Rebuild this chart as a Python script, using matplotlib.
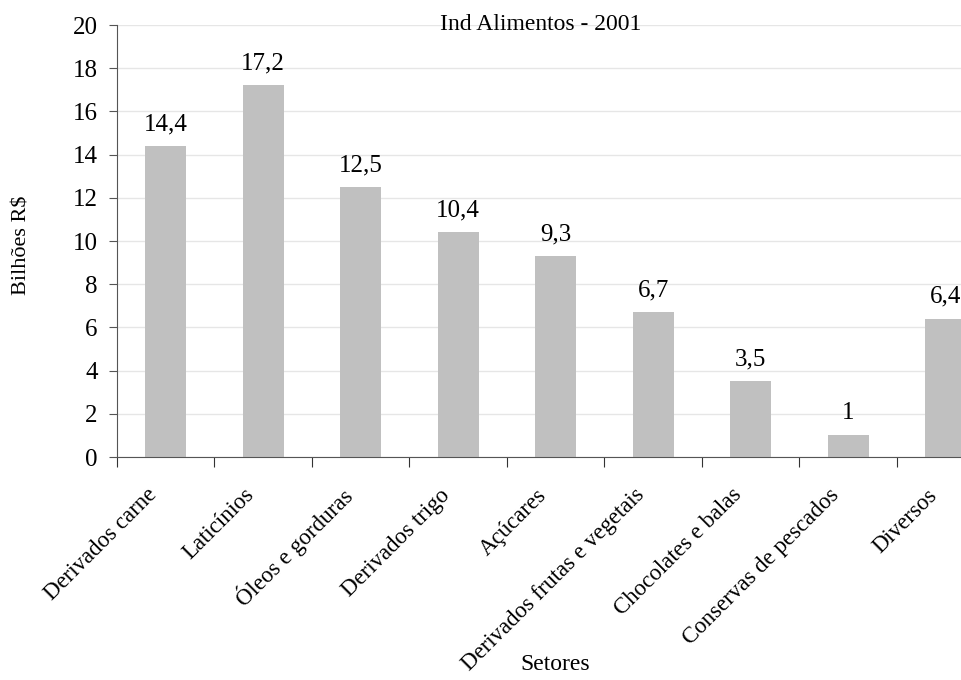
import numpy as np
import matplotlib.pyplot as plt

# dados
setores = ['Derivados carne', 'Laticínios', 'Óleos e gorduras', 'Derivados trigo',
           'Açúcares', 'Derivados frutas e vegetais', 'Chocolates e balas',
           'Conservas de pescados', 'Diversos']
valores = [14.4, 17.2, 12.5, 10.4, 9.3, 6.7, 3.5, 1.0, 6.4]
rotulos = ['14,4', '17,2', '12,5', '10,4', '9,3', '6,7', '3,5', '1', '6,4']

plt.rcParams['font.family'] = ['Liberation Serif', 'DejaVu Serif']

fig = plt.figure(figsize=(9.62, 6.8), dpi=100)
# eixo passa da borda direita, como no original
ax = fig.add_axes([117/962, 223/680, 877.5/962, 432/680])

x = np.arange(len(setores))
ax.bar(x, valores, width=0.42, color='#c0c0c0', zorder=2)

for xi, v, r in zip(x, valores, rotulos):
    ax.annotate(r, (xi, v), xytext=(0, 11.5), textcoords='offset points',
                ha='center', va='baseline', fontsize=18)

# rotulos das categorias, inclinados 45 graus
for xi, s in zip(x, setores):
    ax.annotate(s, (xi, 0), xycoords=('data', 'axes fraction'),
                xytext=(-12, -35), textcoords='offset pixels',
                rotation=45, ha='right', va='center', rotation_mode='anchor',
                fontsize=16.5, annotation_clip=False)

ax.set_xlim(-0.5, 8.5)
ax.set_ylim(0, 20)
ax.set_yticks(np.arange(0, 21, 2))
ax.grid(axis='y', color='#e6e6e6', linewidth=1, zorder=0)

ax.set_xticks(np.arange(-0.5, 9, 1))
ax.set_xticklabels([])
ax.tick_params(axis='x', length=7, direction='out', color='#333333')
ax.tick_params(axis='y', length=6, direction='out', labelsize=18, pad=8, color='#555555')

for s in ['top', 'right']:
    ax.spines[s].set_visible(False)
ax.spines['left'].set_color('#555555')
ax.spines['bottom'].set_color('#555555')

fig.text(22/962, 1 - 245/680, 'Bilhões R$', rotation=90, ha='center', va='center', fontsize=16)
fig.text(555/962, 1 - 664/680, 'Setores', ha='center', va='center', fontsize=17)
fig.text(541/962, 1 - 25/680, 'Ind Alimentos - 2001', ha='center', va='center', fontsize=17)

plt.savefig('out.png', dpi=100)
